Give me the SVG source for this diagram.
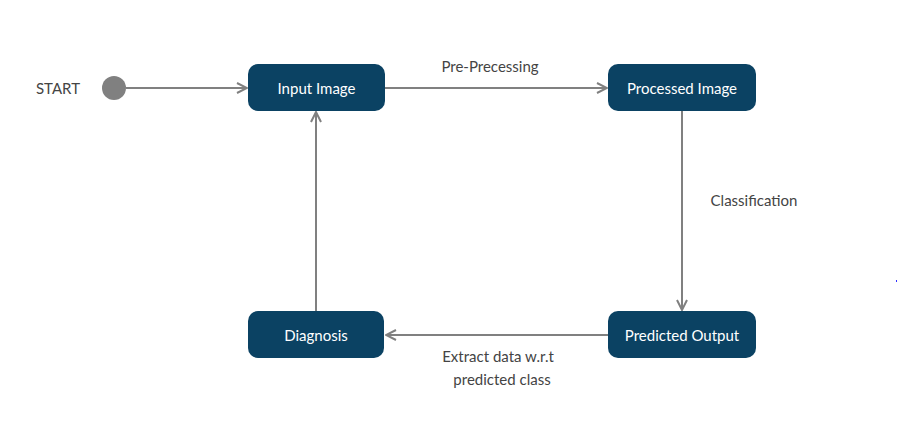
<svg xmlns="http://www.w3.org/2000/svg" width="898" height="428" viewBox="0 0 898 428">
<defs>
<marker id="arr" viewBox="0 0 12 12" refX="11" refY="6" markerWidth="12" markerHeight="12" markerUnits="userSpaceOnUse" orient="auto">
<path d="M1,1 L11,6 L1,11" fill="none" stroke="#808080" stroke-width="2"/>
</marker>
<style>
.node{fill:#0B4263;}
.nt{font-family:Lato,"Open Sans","Liberation Sans",sans-serif;font-size:15px;fill:#ffffff;text-anchor:middle;}
.lbl{font-family:Lato,"Open Sans","Liberation Sans",sans-serif;font-size:15px;fill:#444444;text-anchor:middle;}
.edge{stroke:#808080;stroke-width:2;fill:none;marker-end:url(#arr);}
</style>
</defs>
<rect width="898" height="428" fill="#ffffff"/>
<g id="connectors">
<line class="edge" x1="126" y1="88" x2="247" y2="88"/>
<line class="edge" x1="385" y1="88" x2="607" y2="88"/>
<line class="edge" x1="682" y1="111" x2="682" y2="310"/>
<line class="edge" x1="608" y1="335" x2="386" y2="335"/>
<line class="edge" x1="316" y1="311" x2="316" y2="112"/>
<text class="lbl" x="490" y="72">Pre-Precessing</text>
<text class="lbl" x="754" y="206">Classification</text>
<text class="lbl" x="498" y="362">Extract data w.r.t</text>
<text class="lbl" x="502" y="385">predicted class</text>
</g>
<g id="start">
<text x="58" y="94" style="font-family:Lato,'Open Sans','Liberation Sans',sans-serif;font-size:15px;fill:#444444;text-anchor:middle;">START</text>
<circle cx="114" cy="88" r="12" fill="#808080"/>
</g>
<g id="input-image">
<rect class="node" x="248" y="64" width="137" height="47" rx="10"/>
<text class="nt" x="316.5" y="94">Input Image</text>
</g>
<g id="processed-image">
<rect class="node" x="608" y="64" width="148" height="47" rx="10"/>
<text class="nt" x="682" y="94">Processed Image</text>
</g>
<g id="predicted-output">
<rect class="node" x="608" y="311" width="148" height="47" rx="10"/>
<text class="nt" x="682" y="341">Predicted Output</text>
</g>
<g id="diagnosis">
<rect class="node" x="248" y="311" width="136" height="47" rx="10"/>
<text class="nt" x="316" y="341">Diagnosis</text>
</g>
<rect x="896" y="280" width="1" height="2" fill="#3030ff"/>
</svg>
